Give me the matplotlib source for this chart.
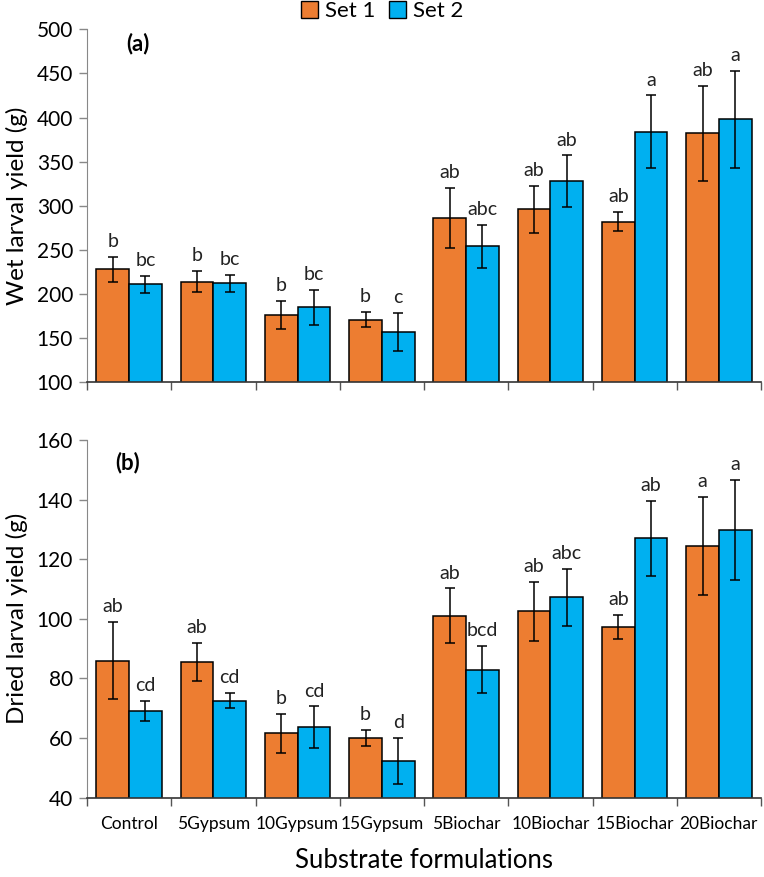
import numpy as np
import matplotlib
matplotlib.use("Agg")
import matplotlib.pyplot as plt
from matplotlib.patches import Patch

plt.rcParams['font.family'] = ['Lato', 'DejaVu Sans']

categories = ["Control", "5Gypsum", "10Gypsum", "15Gypsum",
              "5Biochar", "10Biochar", "15Biochar", "20Biochar"]

# (a) wet larval yield
wet_set1 = [228, 214, 176, 171, 286, 296, 282, 382]
wet_set1_err = [14, 12, 16, 8.5, 34, 27, 11, 54]
wet_set2 = [211, 212, 185, 157, 254, 328, 384, 398]
wet_set2_err = [10, 10, 20, 21.5, 24, 29, 41, 55]
wet_set1_lab = ["b", "b", "b", "b", "ab", "ab", "ab", "ab"]
wet_set2_lab = ["bc", "bc", "bc", "c", "abc", "ab", "a", "a"]

# (b) dried larval yield
dry_set1 = [86.0, 85.4, 61.6, 59.9, 101.0, 102.5, 97.2, 124.4]
dry_set1_err = [13, 6.4, 6.5, 2.7, 9.2, 10, 4.1, 16.5]
dry_set2 = [69.2, 72.5, 63.6, 52.3, 82.9, 107.2, 127.0, 129.8]
dry_set2_err = [3.4, 2.5, 7.0, 7.6, 7.9, 9.6, 12.6, 16.8]
dry_set1_lab = ["ab", "ab", "b", "b", "ab", "ab", "ab", "a"]
dry_set2_lab = ["cd", "cd", "cd", "d", "bcd", "abc", "ab", "a"]

orange = "#ED7D31"
blue = "#00B0F0"
W, H = 764, 877

fig = plt.figure(figsize=(W / 100, H / 100), dpi=100)
ax1 = fig.add_axes([87 / W, 1 - 382.3 / H, 674 / W, 353 / H])
ax2 = fig.add_axes([87 / W, 1 - 797.7 / H, 674 / W, 357.7 / H])

x = np.arange(len(categories))
bw = 0.388


def draw_panel(ax, s1, e1, s2, e2, l1, l2, ylim, step, ylabel, tag, tag_y):
    ekw = dict(ecolor="black", elinewidth=1.1, capsize=3.5, capthick=1.1)
    ax.bar(x - bw / 2, s1, bw, color=orange, edgecolor="black", linewidth=1.1,
           yerr=e1, error_kw=ekw, zorder=2)
    ax.bar(x + bw / 2, s2, bw, color=blue, edgecolor="black", linewidth=1.1,
           yerr=e2, error_kw=ekw, zorder=2)
    for i in range(len(categories)):
        ax.annotate(l1[i], (x[i] - bw / 2, s1[i] + e1[i]), xytext=(0, 5),
                    textcoords="offset points", ha="center", va="bottom",
                    fontsize=14, color="#222222")
        ax.annotate(l2[i], (x[i] + bw / 2, s2[i] + e2[i]), xytext=(0, 5),
                    textcoords="offset points", ha="center", va="bottom",
                    fontsize=14, color="#222222")
    ax.set_ylim(*ylim)
    ax.set_yticks(np.arange(ylim[0], ylim[1] + 1, step))
    ax.set_xlim(-0.5, len(categories) - 0.5)
    ax.set_xticks(np.arange(-0.5, len(categories)), labels=[])
    ax.set_xticks(x, minor=True)
    ax.tick_params(axis="x", which="major", direction="out", length=6, color="#555555", width=1)
    ax.tick_params(axis="x", which="minor", length=0, labelsize=12.5, pad=13)
    ax.tick_params(axis="y", direction="out", length=6, color="#888888", width=1,
                   labelsize=15, pad=4)
    for side in ["top", "right"]:
        ax.spines[side].set_visible(False)
    ax.spines["left"].set_color("#888888")
    ax.spines["bottom"].set_color("#333333")
    ax.spines["bottom"].set_linewidth(1.2)
    ax.set_ylabel(ylabel, fontsize=17.5, labelpad=6)
    ax.text(tag[0], tag_y, tag[1], transform=ax.transAxes, fontsize=16,
            fontweight="bold", ha="center", va="center")


draw_panel(ax1, wet_set1, wet_set1_err, wet_set2, wet_set2_err, wet_set1_lab, wet_set2_lab,
           (100, 500), 50, "Wet larval yield (g)", (0.075, "(a)"), 0.961)
draw_panel(ax2, dry_set1, dry_set1_err, dry_set2, dry_set2_err, dry_set1_lab, dry_set2_lab,
           (40, 160), 20, "Dried larval yield (g)", (0.06, "(b)"), 0.936)

ax2.set_xticklabels(categories, minor=True)
ax2.set_xlabel("Substrate formulations", fontsize=18.5, labelpad=12)

handles = [Patch(facecolor=orange, edgecolor="black", label="Set 1"),
           Patch(facecolor=blue, edgecolor="black", label="Set 2")]
fig.legend(handles=handles, loc="center", bbox_to_anchor=(0.5, 1 - 11 / H), ncol=2,
           frameon=False, fontsize=16, handlelength=0.8, handleheight=0.8,
           handletextpad=0.3, columnspacing=0.6, borderpad=0)

fig.savefig("out.png", dpi=100)
